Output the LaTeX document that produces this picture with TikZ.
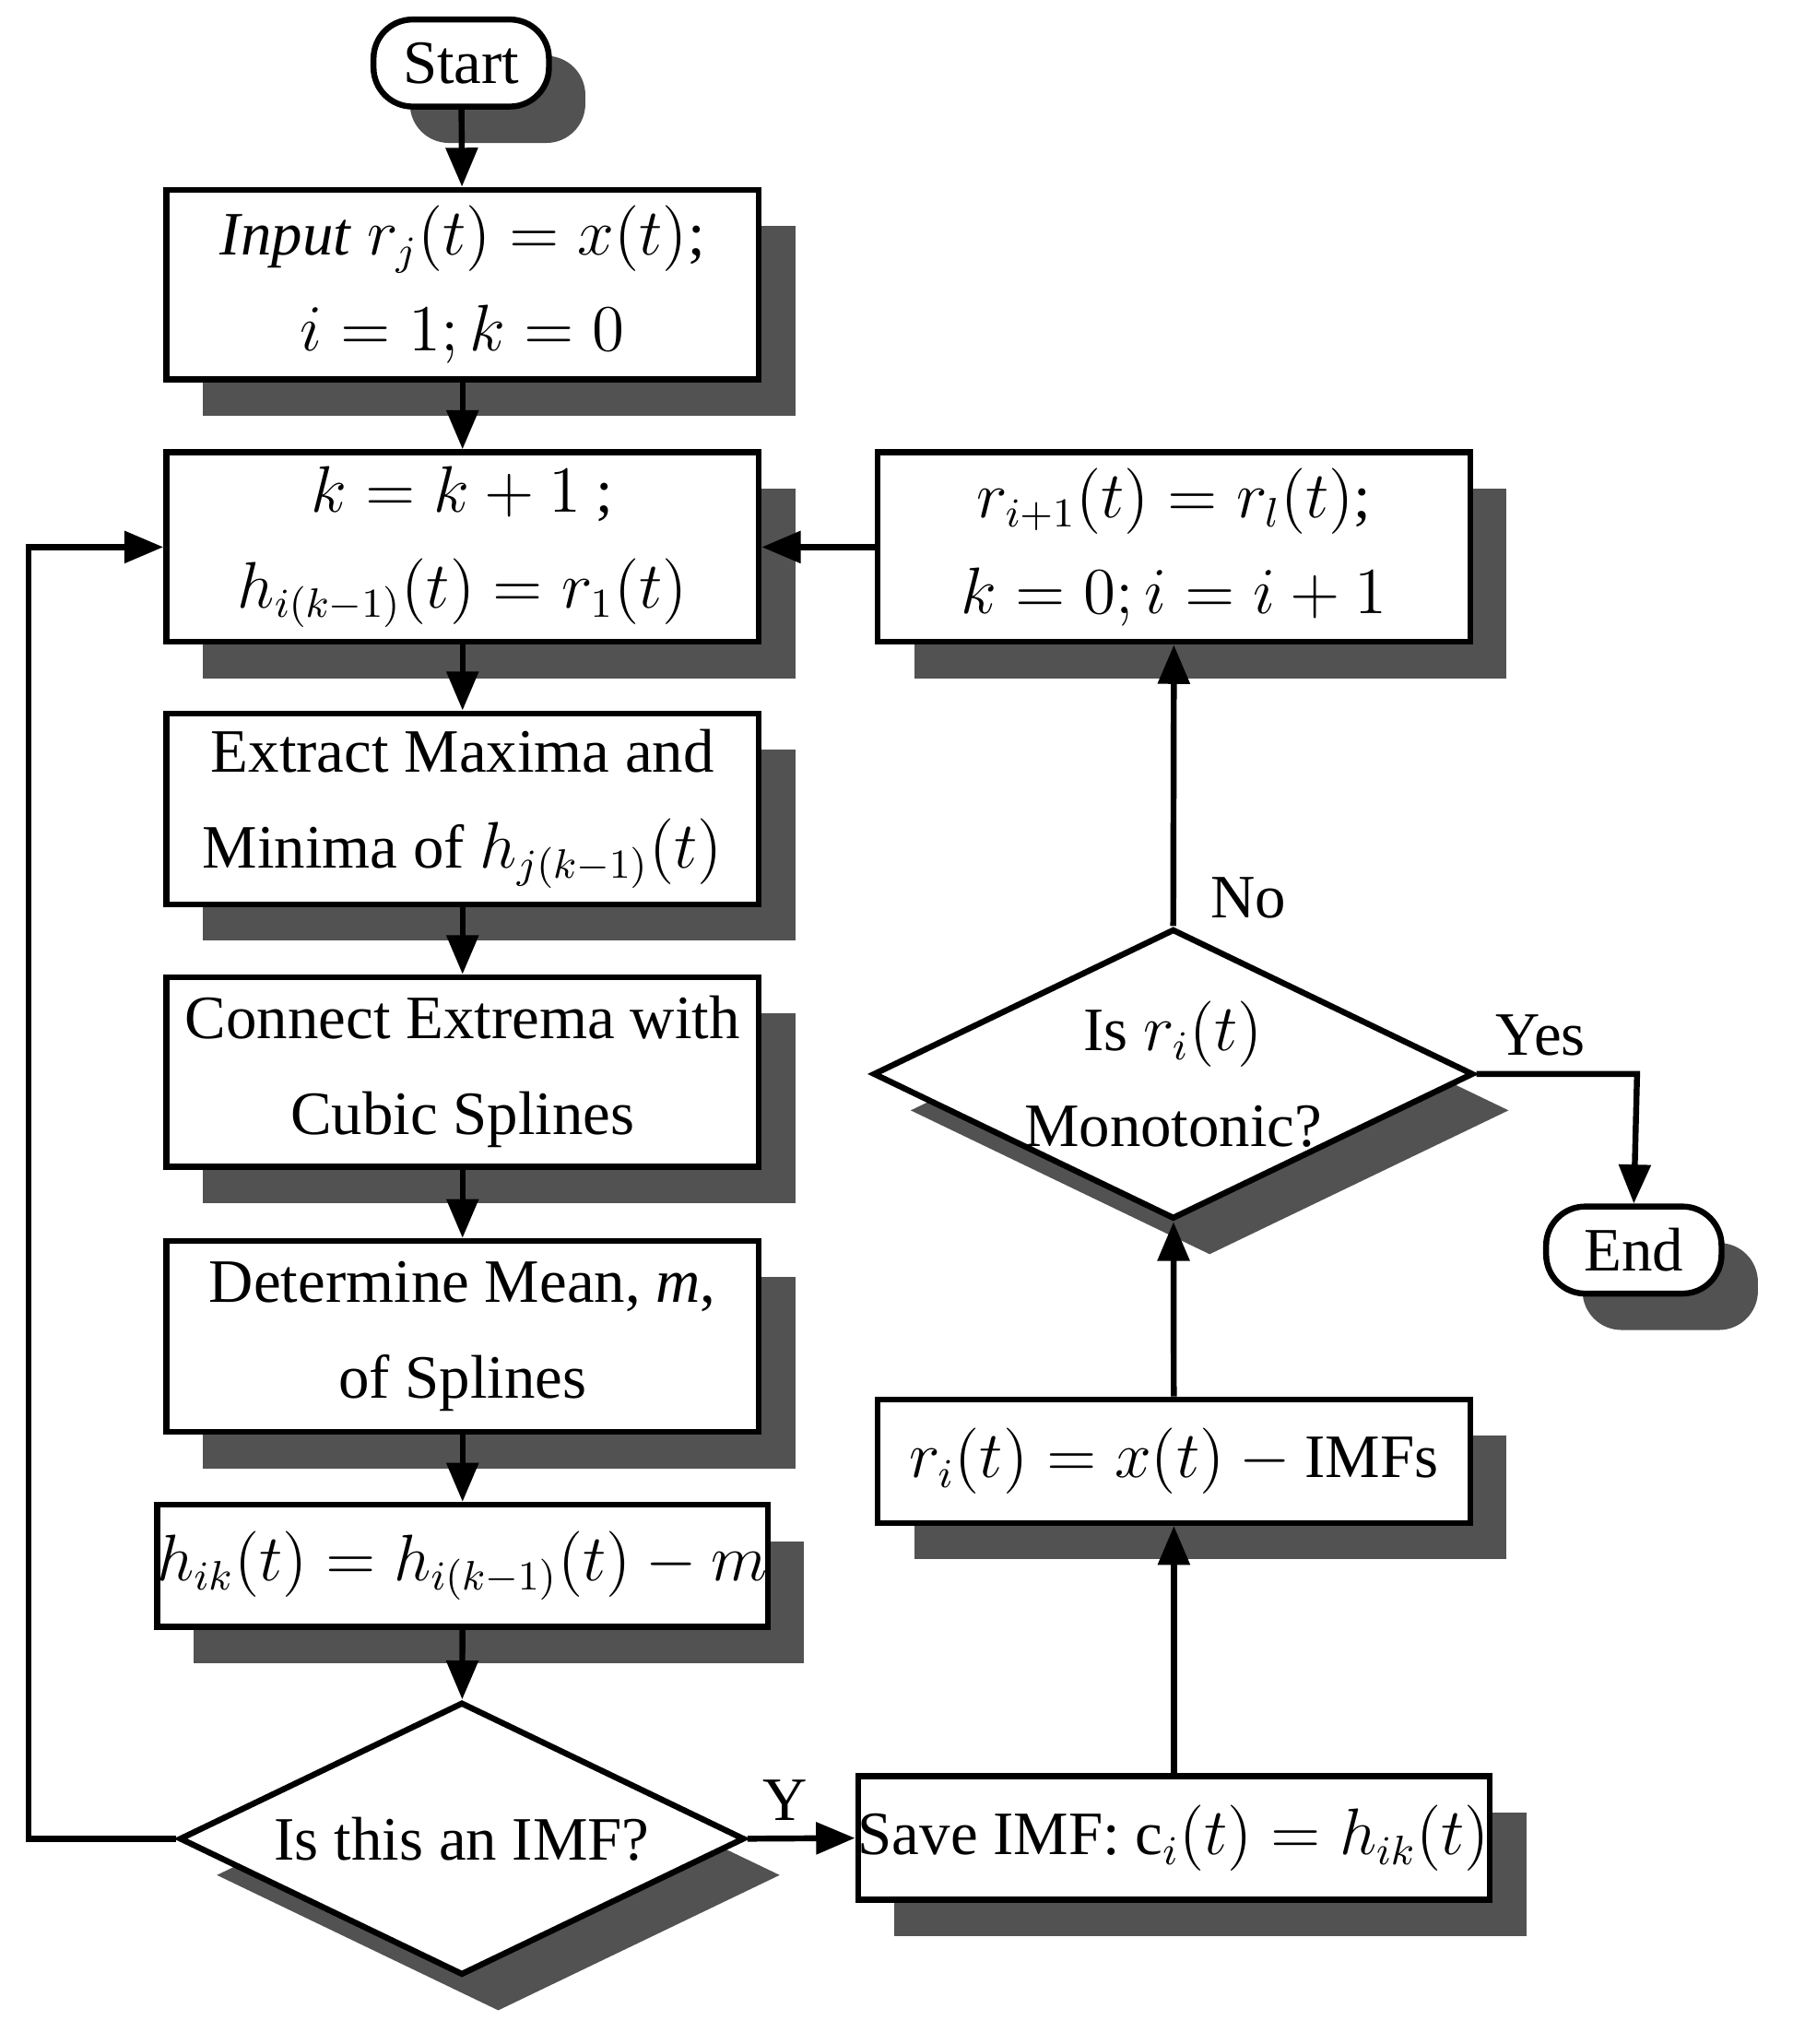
\documentclass[tikz,border=0pt]{standalone}
\usepackage{fontspec}
\setmainfont{Liberation Serif}
\usetikzlibrary{shapes.geometric,shadows,arrows.meta}
\begin{document}
\begin{tikzpicture}[
  sh/.style={drop shadow={shadow xshift=0.28cm,shadow yshift=-0.28cm,fill=black!68,opacity=1}},
  box/.style={draw,line width=1.3pt,fill=white,sh,minimum width=4.56cm,align=center,inner sep=0pt,font=\fontsize{13.5}{21}\selectfont},
  term/.style={box,rounded corners=0.3cm,minimum width=1.35cm,minimum height=0.67cm,inner xsep=0.2cm},
  dia/.style={draw,diamond,line width=1.3pt,fill=white,sh,aspect=2.07,inner sep=0pt,align=center,font=\fontsize{13.5}{21}\selectfont},
  arr/.style={line width=1.3pt,-{Triangle[length=0.3cm,width=0.24cm]}},
  lab/.style={font=\fontsize{13.5}{16}\selectfont}
]
\useasboundingbox (0,0) rectangle (13.8,-15.73);
\node[term] (start) at (3.55,-0.485) {Start};
\node[box,minimum height=1.46cm] (b1) at (3.56,-2.19) {\textit{Input} $r_j(t)=x(t)$;\\ $i=1;k=0$};
\node[box,minimum height=1.46cm] (b2) at (3.56,-4.21) {$k=k+1$ ;\\ $h_{i(k-1)}(t)=r_1(t)$};
\node[box,minimum height=1.47cm] (b3) at (3.56,-6.225) {Extract Maxima and\\ Minima of $h_{j(k-1)}(t)$};
\node[box,minimum height=1.46cm] (b4) at (3.56,-8.25) {Connect Extrema with\\ Cubic Splines};
\node[box,minimum height=1.47cm] (b5) at (3.56,-10.285) {Determine Mean, \textit{m},\\ of Splines};
\node[box,minimum height=0.94cm] (b6) at (3.56,-12.05) {$h_{ik}(t)=h_{i(k-1)}(t)-m$};
\node[dia,minimum width=4.35cm,minimum height=2.1cm] (d1) at (3.555,-14.15) {Is this an IMF?};
\node[box,minimum height=0.95cm] (save) at (9.035,-14.145) {Save IMF: c$_i(t)=h_{ik}(t)$};
\node[box,minimum height=0.95cm] (ri) at (9.035,-11.245) {$r_i(t)=x(t)-\mathrm{IMFs}$};
\node[dia,minimum width=4.36cm,minimum height=2.07cm] (d2) at (9.03,-8.265) {Is $r_i(t)$\\ Monotonic?};
\node[box,minimum height=1.46cm] (rt) at (9.035,-4.21) {$r_{i+1}(t)=r_l(t)$;\\ $k=0;i=i+1$};
\node[term] (end) at (12.575,-9.62) {End};
\draw[arr] (start) -- (b1);
\draw[arr] (b1) -- (b2);
\draw[arr] (b2) -- (b3);
\draw[arr] (b3) -- (b4);
\draw[arr] (b4) -- (b5);
\draw[arr] (b5) -- (b6);
\draw[arr] (b6) -- (d1);
\draw[arr] (d1.west) -- (0.22,-14.15) |- (b2.west);
\draw[arr] (d1.east) -- node[lab,above,pos=0.35]{Y} (save.west);
\draw[arr] (save) -- (ri);
\draw[arr] (ri) -- (d2);
\draw[arr] (d2.north) -- node[lab,right,pos=0.1,xshift=0.15cm]{No} (rt.south);
\draw[arr] (rt.west) -- (b2.east);
\draw[arr] (d2.east) -- node[lab,above,pos=0.4]{Yes} (12.6,-8.265) -- (end.north);
\end{tikzpicture}
\end{document}
